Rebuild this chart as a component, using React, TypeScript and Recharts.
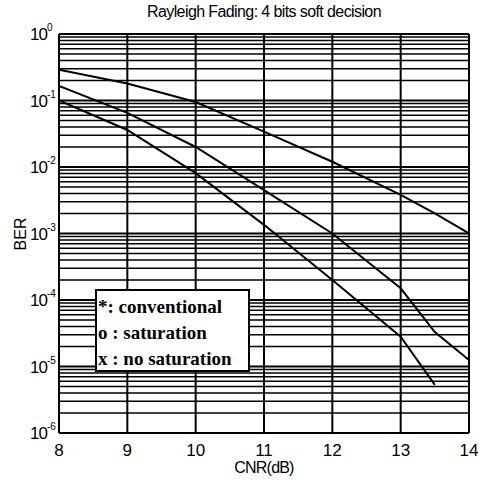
import {
  LineChart, Line, XAxis, YAxis, CartesianGrid, ReferenceLine, Legend
} from 'recharts'

const CNR_DB = [8, 9, 10, 11, 12, 13, 13.5, 14]
const BER_CONVENTIONAL = [0.29, 0.18, 0.095, 0.034, 0.012, 0.0038, 0.002, 0.001]
const BER_SATURATION = [0.165, 0.065, 0.02, 0.0045, 0.001, 0.00015, 0.000033, 0.0000125]
const BER_NO_SATURATION = [0.1, 0.036, 0.0081, 0.00135, 0.0002, 0.000028, 0.0000053, null]

const X_TICKS = [8, 9, 10, 11, 12, 13, 14]
const Y_DECADES = [1, 1e-1, 1e-2, 1e-3, 1e-4, 1e-5, 1e-6]
const MINOR_STEPS = [2, 3, 4, 5, 6, 7, 8, 9]

const SERIES = [
  { key: 'conventional', symbol: '*', sep: ': ', name: 'conventional' },
  { key: 'saturation', symbol: 'o', sep: ' : ', name: 'saturation' },
  { key: 'noSaturation', symbol: 'x', sep: ' : ', name: 'no saturation' },
]

const data = CNR_DB.map((cnr, i) => ({
  cnr,
  conventional: BER_CONVENTIONAL[i],
  saturation: BER_SATURATION[i],
  noSaturation: BER_NO_SATURATION[i],
}))

// minor log grid: 2..9 x each decade below 1
const minorGrid = Y_DECADES.slice(1).flatMap(d => MINOR_STEPS.map(m => m * d))

const SANS = '"Liberation Sans", Arial, Helvetica, sans-serif'
const SERIF = '"Liberation Serif", "Times New Roman", serif'

const YTick = ({ y, payload }: any) => {
  const exp = Math.round(Math.log10(payload.value))
  return (
    <g fontFamily={SANS} fill="#000">
      <text x={47} y={y + 6} textAnchor="end" fontSize={17} letterSpacing={-1}>10</text>
      <text x={47} y={y - 3} textAnchor="start" fontSize={10}>{exp === 0 ? '0' : `-${-exp}`}</text>
    </g>
  )
}

const XTick = ({ x, payload }: any) => (
  <text x={x} y={456} textAnchor="middle" fontSize={17} fontFamily={SANS} fill="#000">
    {payload.value}
  </text>
)

const LegendBox = () => (
  <div style={{
    width: 155, height: 83, background: '#fff', border: '2px solid #000',
    fontFamily: SERIF, fontSize: 19, fontWeight: 700, lineHeight: '26px', color: '#000',
    padding: '3px 0 0 1px', boxSizing: 'border-box', textAlign: 'left',
  }}>
    {SERIES.map(s => (
      <div key={s.key} style={{ whiteSpace: 'nowrap' }}>
        {s.symbol}{s.sep}{s.name}
      </div>
    ))}
  </div>
)

export default function App() {
  return (
    <div style={{ position: 'relative', width: 485, height: 484, background: '#fff' }}>
      <style>{`body{margin:0;background:#fff}`}</style>
      <div style={{
        position: 'absolute', left: 59, width: 410, top: 3, textAlign: 'center',
        fontFamily: SANS, fontSize: 16, letterSpacing: -0.6, color: '#000',
      }}>
        Rayleigh Fading: 4 bits soft decision
      </div>
      <LineChart width={485} height={484} data={data}
        margin={{ top: 34, right: 16, bottom: 0, left: 0 }}>
        <CartesianGrid stroke="#000" strokeWidth={2} horizontal vertical />
        {minorGrid.map(v => (
          <ReferenceLine key={v} y={v} stroke="#000" strokeWidth={1.4} ifOverflow="hidden" />
        ))}
        <XAxis dataKey="cnr" type="number" domain={[8, 14]} ticks={X_TICKS}
          height={51} tickLine={false} axisLine={{ stroke: '#000', strokeWidth: 2 }}
          tick={<XTick />} allowDataOverflow
          label={() => (
            <text x={264} y={473} textAnchor="middle" fontSize={16} fontFamily={SANS}
              letterSpacing={-0.8} fill="#000">CNR(dB)</text>
          )} />
        <YAxis type="number" scale="log" domain={[1e-6, 1]} ticks={Y_DECADES}
          width={59} tickLine={false} axisLine={{ stroke: '#000', strokeWidth: 2 }}
          tick={<YTick />} allowDataOverflow interval={0}
          label={() => (
            <text transform="translate(26,234) rotate(-90)" textAnchor="middle"
              fontSize={16} fontFamily={SANS} fill="#000">BER</text>
          )} />
        <ReferenceLine x={14} stroke="#000" strokeWidth={2} />
        <ReferenceLine y={1} stroke="#000" strokeWidth={2} />
        {SERIES.map(s => (
          <Line key={s.key} dataKey={s.key} name={s.name} stroke="#000" strokeWidth={2}
            dot={false} isAnimationActive={false} type="linear" />
        ))}
        <Legend layout="horizontal" verticalAlign="middle" align="center"
          content={<LegendBox />}
          wrapperStyle={{ left: 95, top: 289, width: 155, height: 83 }} />
      </LineChart>
    </div>
  )
}
